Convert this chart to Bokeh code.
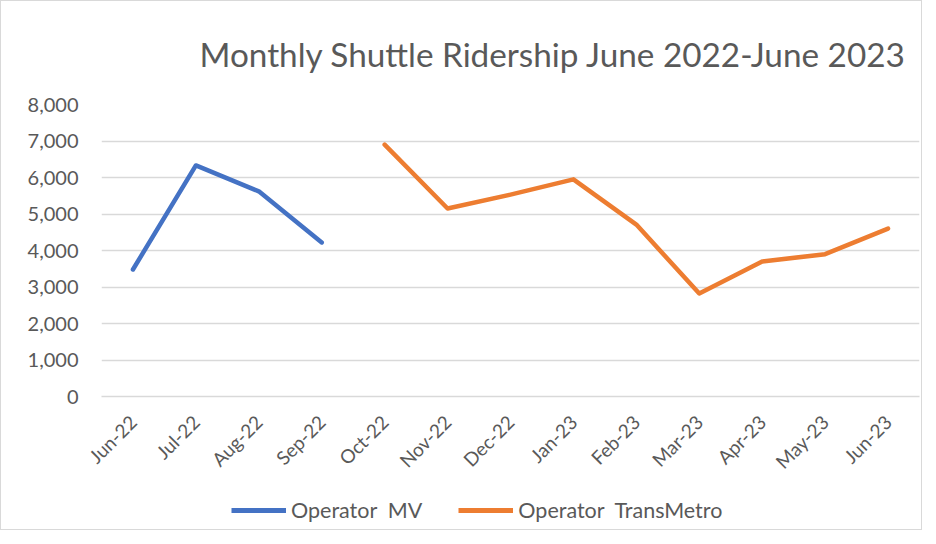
from bokeh.plotting import figure
from bokeh.layouts import column
from bokeh.models import FactorRange, Range1d, Legend, LegendItem, NumeralTickFormatter, Title
from bokeh.embed import file_html
from bokeh.resources import INLINE
import math

months = ["Jun-22", "Jul-22", "Aug-22", "Sep-22", "Oct-22", "Nov-22", "Dec-22",
          "Jan-23", "Feb-23", "Mar-23", "Apr-23", "May-23", "Jun-23"]
mv_months = ["Jun-22", "Jul-22", "Aug-22", "Sep-22"]
mv_values = [3480, 6330, 5620, 4220]
tm_months = ["Oct-22", "Nov-22", "Dec-22", "Jan-23", "Feb-23", "Mar-23",
             "Apr-23", "May-23", "Jun-23"]
tm_values = [6900, 5150, 5530, 5950, 4710, 2820, 3700, 3900, 4600]
y_ticks = [0, 1000, 2000, 3000, 4000, 5000, 6000, 7000, 8000]
series_names = ["Operator  MV", "Operator  TransMetro"]
series_colors = ["#4472C4", "#ED7D31"]

FONT = "Lato"
GRAY = "#595959"

p = figure(width=920, height=490, x_range=FactorRange(*months), y_range=Range1d(0, 8000),
           output_backend="svg", toolbar_location=None,
           min_border_left=100, min_border_right=2, min_border_top=103, min_border_bottom=95)

t = Title(text="Monthly Shuttle Ridership June 2022-June 2023", align="left", offset=98,
          text_font=FONT, text_font_size="33.3px", text_font_style="normal",
          text_color=GRAY, standoff=58, vertical_align="top")
p.add_layout(t, "above")

p.line(mv_months, mv_values, line_color=series_colors[0], line_width=4.5, line_cap="round", line_join="round")
p.line(tm_months, tm_values, line_color=series_colors[1], line_width=4.5, line_cap="round", line_join="round")

p.outline_line_color = None
p.xgrid.grid_line_color = None
p.ygrid.grid_line_color = "#d9d9d9"
p.ygrid.grid_line_width = 1.5
p.yaxis.ticker = y_ticks
p.yaxis.formatter = NumeralTickFormatter(format="0,0")
p.yaxis.axis_line_color = None
p.yaxis.major_tick_line_color = None
p.yaxis.minor_tick_line_color = None
p.yaxis.major_label_text_font = FONT
p.yaxis.major_label_text_font_size = "20px"
p.yaxis.major_label_text_color = GRAY
p.yaxis.major_label_standoff = 17

p.xaxis.axis_line_color = "#d9d9d9"
p.xaxis.axis_line_width = 1.5
p.xaxis.major_tick_line_color = None
p.xaxis.major_label_orientation = math.pi / 4
p.xaxis.major_label_text_font = FONT
p.xaxis.major_label_text_font_size = "19px"
p.xaxis.major_label_text_color = GRAY
p.xaxis.major_label_standoff = 16
p.x_range.range_padding = 0

# legend strip below the chart
lf = figure(width=920, height=38, x_range=FactorRange(*months), y_range=Range1d(0, 8000),
            output_backend="svg", toolbar_location=None, x_axis_type=None, y_axis_type=None,
            min_border_left=0, min_border_right=0, min_border_top=0, min_border_bottom=0)
lf.outline_line_color = None
lf.xgrid.grid_line_color = None
lf.ygrid.grid_line_color = None
l1 = lf.line(mv_months, mv_values, line_color=series_colors[0], line_width=5, visible=False)
l2 = lf.line(tm_months, tm_values, line_color=series_colors[1], line_width=5, visible=False)
legend = Legend(items=[LegendItem(label=series_names[0], renderers=[l1]),
                       LegendItem(label=series_names[1], renderers=[l2])],
                orientation="horizontal", location=(130, 6), margin=0, padding=4,
                label_text_font=FONT, label_text_font_size="21.5px", label_text_color=GRAY,
                glyph_width=55, glyph_height=12, spacing=36, label_standoff=5,
                inactive_fill_alpha=0, border_line_color=None, background_fill_alpha=0)
lf.add_layout(legend, "center")

layout = column(p, lf, spacing=0)
layout.styles = {"border": "1px solid #d9d9d9"}

open("out.html", "w").write(file_html(layout, INLINE))
